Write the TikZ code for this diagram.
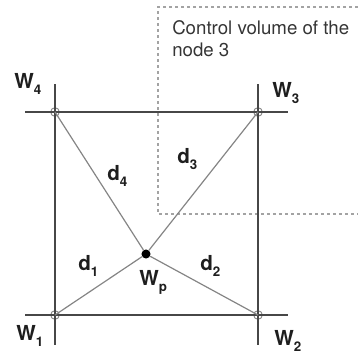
\documentclass[tikz,border=0pt]{standalone}
\usepackage{fontspec}
\setmainfont{TeX Gyre Heros}

\definecolor{gridgray}{HTML}{474747}
\definecolor{raygray}{HTML}{858585}
\definecolor{cvgray}{HTML}{A3A3A3}
\definecolor{labgray}{HTML}{1E1E1E}

% bold letter with a small, lowered index
\newcommand{\idx}[2]{#1\raisebox{-0.6ex}{\fontsize{10}{10}\selectfont #2}}

\begin{document}
\begin{tikzpicture}[x=0.75pt,y=-0.75pt,
  grid/.style={draw=gridgray,line width=1.5pt},
  ray/.style={draw=raygray,line width=0.9pt},
  cv/.style={draw=cvgray,line width=0.9pt,dash pattern=on 2.5pt off 2pt},
  gp/.style={circle,draw=raygray,line width=0.7pt,minimum size=6.5pt,inner sep=0pt},
  lab/.style={anchor=base west,inner sep=0pt,text=labgray,font=\fontsize{15.5}{15.5}\selectfont\bfseries}]
  \useasboundingbox (0,0) rectangle (358,358);
  % control volume of node 3
  \draw[cv] (358,7) -- (158,7) -- (158,214) -- (358,214);
  \node[anchor=north west,inner sep=0pt,align=left,text=labgray!90,
        font=\fontsize{14}{16.5}\selectfont] (cvtext) at (172,20.5) {Control volume of the\\node 3};
  % grid points and centre point
  \node[gp] (W4) at (55,112) {}; \node[gp] (W3) at (258,112) {};
  \node[gp] (W1) at (55,315) {}; \node[gp] (W2) at (258,315) {};
  \node[circle,fill=black,minimum size=6.8pt,inner sep=0pt] (Wp) at (146,254) {};
  % grid lines
  \coordinate (t0) at (25,112); \coordinate (t1) at (288,112);
  \coordinate (b0) at (25,315); \coordinate (b1) at (288,315);
  \coordinate (l0) at (55,84);  \coordinate (l1) at (55,345);
  \coordinate (r0) at (258,84); \coordinate (r1) at (258,345);
  \draw[grid] (t0) -- (t1); \draw[grid] (b0) -- (b1);
  \draw[grid] (l0) -- (l1); \draw[grid] (r0) -- (r1);
  % distances
  \draw[ray] (Wp) -- (W1.center); \draw[ray] (Wp) -- (W2.center);
  \draw[ray] (Wp) -- (W3.center); \draw[ray] (Wp) -- (W4.center);
  % labels
  \node[lab] (lW4) at (14,88) {\idx{W}{4}};
  \node[lab] (lW3) at (272,97) {\idx{W}{3}};
  \node[lab] (lW1) at (16,340) {\idx{W}{1}};
  \node[lab] (lW2) at (274,345) {\idx{W}{2}};
  \node[lab] (lWp) at (139,285) {\idx{W}{p}};
  \node[lab] (ld1) at (78,270) {\idx{d}{1}};
  \node[lab] (ld2) at (200,270) {\idx{d}{2}};
  \node[lab] (ld3) at (177,163) {\idx{d}{3}};
  \node[lab] (ld4) at (107,180) {\idx{d}{4}};
\end{tikzpicture}
\end{document}
